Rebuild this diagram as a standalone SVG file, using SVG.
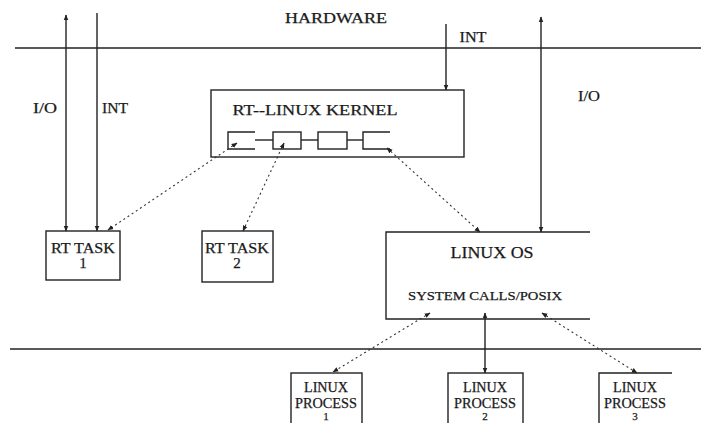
<svg xmlns="http://www.w3.org/2000/svg" width="701" height="423" viewBox="0 0 701 423">
<defs>
<marker id="ah" viewBox="0 0 10 10" refX="9" refY="5" markerWidth="6" markerHeight="6" orient="auto-start-reverse" markerUnits="userSpaceOnUse">
<path d="M0,1 L10,5 L0,9 z" fill="#222"/>
</marker>
<style>
.t{font-family:"Liberation Serif","Times New Roman",serif;fill:#1a1a1a;text-anchor:middle;stroke:#1a1a1a;stroke-width:0.25}
.ln{stroke:#222;stroke-width:1.4;fill:none}
.bx{stroke:#222;stroke-width:1.4;fill:none}
.dt{stroke:#333;stroke-width:1.1;fill:none;stroke-dasharray:2 3}
</style>
</defs>
<rect width="701" height="423" fill="#fff"/>
<g id="hardware">
<line class="ln" x1="15" y1="48" x2="701" y2="48"/>
<text class="t" x="336" y="23" font-size="14" textLength="102" lengthAdjust="spacingAndGlyphs">HARDWARE</text>
</g>
<g id="userline">
<line class="ln" x1="10" y1="349" x2="701" y2="349"/>
</g>
<g id="kernel">
<rect class="bx" x="211" y="90" width="253" height="67"/>
<text class="t" x="315" y="115" font-size="15.5" textLength="165" lengthAdjust="spacingAndGlyphs">RT--LINUX KERNEL</text>
<path class="bx" d="M255,132 H228 V149 H255"/>
<line class="ln" x1="255" y1="140" x2="273" y2="140"/>
<rect class="bx" x="273" y="132" width="28" height="17"/>
<line class="ln" x1="301" y1="140" x2="318" y2="140"/>
<rect class="bx" x="318" y="132" width="29" height="17"/>
<line class="ln" x1="347" y1="140" x2="363" y2="140"/>
<path class="bx" d="M390,132 H363 V149 H390"/>
</g>
<g id="rttask1">
<rect class="bx" x="46" y="231" width="74" height="49"/>
<text class="t" x="83" y="253" font-size="15" textLength="64" lengthAdjust="spacingAndGlyphs">RT TASK</text>
<text class="t" x="83" y="268" font-size="15">1</text>
</g>
<g id="rttask2">
<rect class="bx" x="202" y="231" width="71" height="51"/>
<text class="t" x="237" y="253" font-size="15" textLength="64" lengthAdjust="spacingAndGlyphs">RT TASK</text>
<text class="t" x="237" y="268" font-size="15">2</text>
</g>
<g id="linuxos">
<path class="bx" d="M590,232 H386 V319 H590"/>
<text class="t" x="492" y="258" font-size="17" textLength="83" lengthAdjust="spacingAndGlyphs">LINUX OS</text>
<text class="t" x="485" y="300" font-size="12.5" textLength="154" lengthAdjust="spacingAndGlyphs">SYSTEM CALLS/POSIX</text>
</g>
<g id="proc1">
<rect class="bx" x="291" y="373" width="71" height="60"/>
<text class="t" x="326" y="392" font-size="14" textLength="44" lengthAdjust="spacingAndGlyphs">LINUX</text>
<text class="t" x="326" y="408" font-size="14" textLength="62" lengthAdjust="spacingAndGlyphs">PROCESS</text>
<text class="t" x="326" y="420" font-size="11">1</text>
</g>
<g id="proc2">
<rect class="bx" x="448" y="373" width="75" height="60"/>
<text class="t" x="485" y="392" font-size="14" textLength="44" lengthAdjust="spacingAndGlyphs">LINUX</text>
<text class="t" x="485" y="408" font-size="14" textLength="62" lengthAdjust="spacingAndGlyphs">PROCESS</text>
<text class="t" x="485" y="420" font-size="11">2</text>
</g>
<g id="proc3">
<path class="bx" d="M672,373 H599 V433"/>
<text class="t" x="635" y="392" font-size="14" textLength="44" lengthAdjust="spacingAndGlyphs">LINUX</text>
<text class="t" x="635" y="408" font-size="14" textLength="62" lengthAdjust="spacingAndGlyphs">PROCESS</text>
<text class="t" x="635" y="420" font-size="11">3</text>
</g>
<g id="connectors">
<line class="ln" x1="66" y1="15" x2="66" y2="231" marker-start="url(#ah)" marker-end="url(#ah)"/>
<line class="ln" x1="97" y1="13" x2="97" y2="231" marker-end="url(#ah)"/>
<text class="t" x="45" y="113" font-size="15" textLength="24" lengthAdjust="spacingAndGlyphs">I/O</text>
<text class="t" x="115" y="113" font-size="15" textLength="26" lengthAdjust="spacingAndGlyphs">INT</text>
<line class="ln" x1="446" y1="24" x2="446" y2="90" marker-end="url(#ah)"/>
<text class="t" x="473" y="42" font-size="15" textLength="27" lengthAdjust="spacingAndGlyphs">INT</text>
<line class="ln" x1="541" y1="17" x2="541" y2="232" marker-start="url(#ah)" marker-end="url(#ah)"/>
<text class="t" x="589" y="101" font-size="15" textLength="22" lengthAdjust="spacingAndGlyphs">I/O</text>
<line class="dt" x1="237" y1="143" x2="108" y2="230" marker-start="url(#ah)" marker-end="url(#ah)"/>
<line class="dt" x1="284" y1="143" x2="243" y2="231" marker-start="url(#ah)" marker-end="url(#ah)"/>
<line class="dt" x1="387" y1="148" x2="480" y2="232" marker-start="url(#ah)" marker-end="url(#ah)"/>
<line class="dt" x1="430" y1="313" x2="333" y2="372" marker-start="url(#ah)" marker-end="url(#ah)"/>
<line class="ln" x1="485" y1="313" x2="485" y2="373" marker-start="url(#ah)" marker-end="url(#ah)"/>
<line class="dt" x1="542" y1="313" x2="637" y2="373" marker-start="url(#ah)" marker-end="url(#ah)"/>
</g>
</svg>
